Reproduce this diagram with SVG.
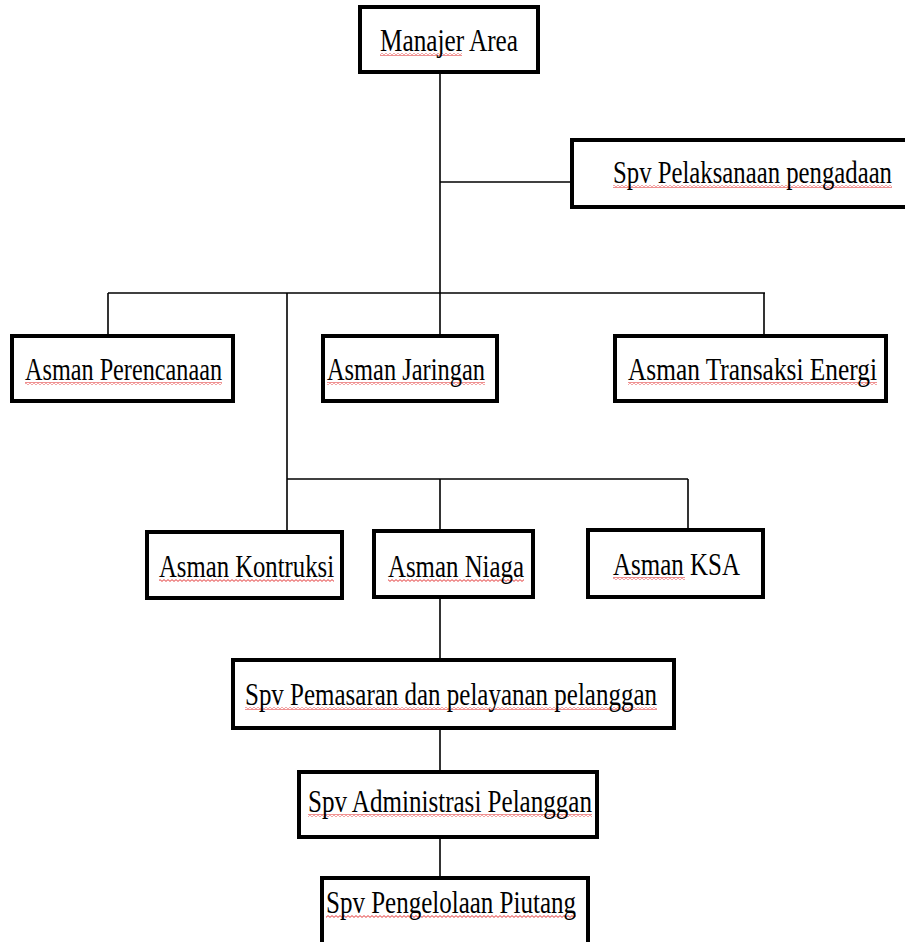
<svg xmlns="http://www.w3.org/2000/svg" width="905" height="942" viewBox="0 0 905 942">
<style>
  .box { fill: #fff; stroke: #000; stroke-width: 4; }
  .lbl { font-family: "Liberation Serif", "Times New Roman", serif; font-size: 32px; fill: #000; }
  .con { stroke: #000; stroke-width: 1.6; fill: none; }
  .sq { fill: url(#squiggle); }
</style>
<defs>
  <pattern id="squiggle" patternUnits="userSpaceOnUse" width="4" height="3">
    <path d="M0 0.6 L2 2.4 L4 0.6" stroke="#e02020" stroke-width="0.9" fill="none"/>
  </pattern>
</defs>
<rect width="905" height="942" fill="#fff"/>
<g id="connectors">
  <line class="con" x1="440" y1="72" x2="440" y2="336"/>
  <line class="con" x1="440" y1="182" x2="572" y2="182"/>
  <line class="con" x1="108" y1="293" x2="765" y2="293"/>
  <line class="con" x1="108" y1="293" x2="108" y2="336"/>
  <line class="con" x1="764" y1="293" x2="764" y2="336"/>
  <line class="con" x1="287" y1="293" x2="287" y2="532"/>
  <line class="con" x1="287" y1="479" x2="688" y2="479"/>
  <line class="con" x1="440" y1="479" x2="440" y2="531"/>
  <line class="con" x1="688" y1="479" x2="688" y2="530"/>
  <line class="con" x1="440" y1="597" x2="440" y2="660"/>
  <line class="con" x1="440" y1="728" x2="440" y2="772"/>
  <line class="con" x1="440" y1="837" x2="440" y2="878"/>
</g>
<g id="manajer-area">
  <rect class="box" x="360" y="7" width="178" height="65"/>
  <rect class="sq" x="380" y="53" width="82" height="3"/>
  <text class="lbl" transform="scale(0.8,1)" x="475" y="51" textLength="172.5" lengthAdjust="spacingAndGlyphs">Manajer Area</text>
</g>
<g id="spv-pelaksanaan">
  <rect class="box" x="572" y="140" width="340" height="67"/>
  <rect class="sq" x="613" y="185" width="279" height="3"/>
  <text class="lbl" transform="scale(0.8,1)" x="766.25" y="183" textLength="348.75" lengthAdjust="spacingAndGlyphs">Spv Pelaksanaan pengadaan</text>
</g>
<g id="asman-perencanaan">
  <rect class="box" x="12" y="336" width="221" height="65"/>
  <rect class="sq" x="25" y="382" width="197" height="3"/>
  <text class="lbl" transform="scale(0.8,1)" x="31.25" y="380" textLength="246.25" lengthAdjust="spacingAndGlyphs">Asman Perencanaan</text>
</g>
<g id="asman-jaringan">
  <rect class="box" x="323" y="336" width="174" height="65"/>
  <rect class="sq" x="327" y="382" width="158" height="3"/>
  <text class="lbl" transform="scale(0.8,1)" x="408.75" y="380" textLength="197.5" lengthAdjust="spacingAndGlyphs">Asman Jaringan</text>
</g>
<g id="asman-transaksi-energi">
  <rect class="box" x="615" y="336" width="271" height="65"/>
  <rect class="sq" x="628" y="382" width="249" height="3"/>
  <text class="lbl" transform="scale(0.8,1)" x="785" y="380" textLength="311.25" lengthAdjust="spacingAndGlyphs">Asman Transaksi Energi</text>
</g>
<g id="asman-kontruksi">
  <rect class="box" x="147" y="532" width="195" height="66"/>
  <rect class="sq" x="159" y="579" width="175" height="3"/>
  <text class="lbl" transform="scale(0.8,1)" x="198.75" y="577" textLength="218.75" lengthAdjust="spacingAndGlyphs">Asman Kontruksi</text>
</g>
<g id="asman-niaga">
  <rect class="box" x="374" y="531" width="159" height="66"/>
  <rect class="sq" x="388" y="579" width="136" height="3"/>
  <text class="lbl" transform="scale(0.8,1)" x="485" y="577" textLength="170" lengthAdjust="spacingAndGlyphs">Asman Niaga</text>
</g>
<g id="asman-ksa">
  <rect class="box" x="588" y="530" width="175" height="67"/>
  <rect class="sq" x="613" y="577" width="72" height="3"/>
  <text class="lbl" transform="scale(0.8,1)" x="766.25" y="575" textLength="158.75" lengthAdjust="spacingAndGlyphs">Asman KSA</text>
</g>
<g id="spv-pemasaran">
  <rect class="box" x="233" y="660" width="441" height="68"/>
  <rect class="sq" x="245" y="707" width="412" height="3"/>
  <text class="lbl" transform="scale(0.8,1)" x="306.25" y="705" textLength="515" lengthAdjust="spacingAndGlyphs">Spv Pemasaran dan pelayanan pelanggan</text>
</g>
<g id="spv-administrasi">
  <rect class="box" x="299" y="772" width="298" height="65"/>
  <rect class="sq" x="308" y="814" width="284" height="3"/>
  <text class="lbl" transform="scale(0.8,1)" x="385" y="812" textLength="355" lengthAdjust="spacingAndGlyphs">Spv Administrasi Pelanggan</text>
</g>
<g id="spv-piutang">
  <rect class="box" x="322" y="878" width="266" height="80"/>
  <rect class="sq" x="326" y="915" width="250" height="3"/>
  <text class="lbl" transform="scale(0.8,1)" x="407.5" y="913" textLength="312.5" lengthAdjust="spacingAndGlyphs">Spv Pengelolaan Piutang</text>
</g>
</svg>
